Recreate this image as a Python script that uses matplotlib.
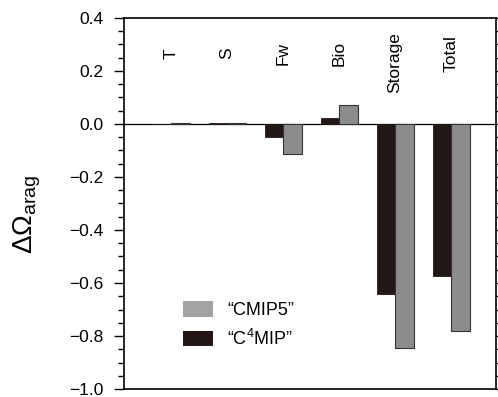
import numpy as np
import matplotlib
matplotlib.use('Agg')
import matplotlib.pyplot as plt
from matplotlib.patches import Patch

plt.rcParams['font.family'] = ['Liberation Sans', 'DejaVu Sans']
plt.rcParams['mathtext.fontset'] = 'custom'
plt.rcParams['mathtext.rm'] = 'Liberation Sans'
plt.rcParams['mathtext.it'] = 'Liberation Sans'

# data
categories = ['T', 'S', 'Fw', 'Bio', 'Storage', 'Total']
c4mip = [0.0, 0.004, -0.05, 0.022, -0.642, -0.574]
cmip5 = [0.004, 0.004, -0.115, 0.072, -0.845, -0.781]
yticks = [0.4, 0.2, 0.0, -0.2, -0.4, -0.6, -0.8, -1.0]

dark = '#231816'
grey = '#8c8c8c'

fig = plt.figure(figsize=(4.98, 3.97), dpi=100)
ax = fig.add_axes([0.249, 0.020, 0.747, 0.935])

x = np.arange(len(categories))
w = 0.33
ax.bar(x - w / 2, c4mip, w, color=dark, edgecolor=dark, linewidth=0.6)
ax.bar(x + w / 2, cmip5, w, color=grey, edgecolor='#333333', linewidth=0.8)
ax.axhline(0, color='black', lw=0.9, zorder=0.5)

# category names written inside the plot, rotated
for i, name in enumerate(categories):
    yy = 0.23 if name == 'Storage' else 0.265
    ax.text(i, yy, name, rotation=90, ha='center', va='center', fontsize=12.5)

ax.set_xlim(-0.84, 5.8)
ax.set_ylim(-1.0, 0.4)
ax.set_xticks([])
ax.set_yticks(yticks)
ax.set_yticklabels(['%.1f' % v if v >= 0 else '\u2212%.1f' % -v for v in yticks],
                   fontsize=12.5)
ax.set_yticks(np.arange(-1.0, 0.401, 0.05), minor=True)
ax.tick_params(axis='y', which='major', direction='out', length=7, width=1,
               right=True, labelright=False, pad=8)
ax.tick_params(axis='y', which='minor', direction='out', length=4, width=1,
               right=True)
for s in ax.spines.values():
    s.set_linewidth(1.2)

ax.set_ylabel(r'$\Delta\Omega_{\mathrm{arag}}$', fontsize=20)
ax.yaxis.set_label_coords(-0.218, 0.47)

handles = [Patch(facecolor='#a3a3a3', edgecolor='none'),
           Patch(facecolor=dark, edgecolor='none')]
labels = ['\u201cCMIP5\u201d', '\u201cC$^{4}$MIP\u201d']
ax.legend(handles, labels, frameon=False, fontsize=13,
          loc='upper left', bbox_to_anchor=(0.159, 0.237),
          handlelength=1.67, handleheight=0.95, handletextpad=0.78,
          labelspacing=0.53, borderaxespad=0, borderpad=0)

fig.savefig('out.png', dpi=100)
